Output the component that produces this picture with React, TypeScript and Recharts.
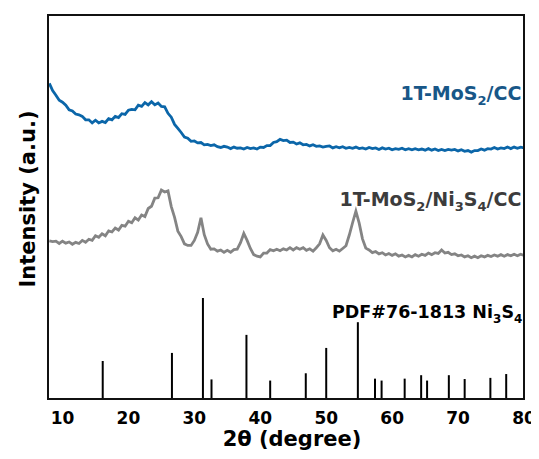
import React from 'react';
import {
  ComposedChart,
  Line,
  XAxis,
  YAxis,
  ReferenceLine,
  ReferenceDot,
} from 'recharts';

// 2θ sampling grid of the measured patterns
const twoThetaStart = 8;
const twoThetaStep = 0.5;

// 1T-MoS2/CC intensity (a.u.), one value per grid step (8.0 … 80.0)
const mos2CC = [
  82.2, 80.3, 79.1, 77.8, 77.3, 76.5, 75.3, 75.0, 74.2, 74.0,
  73.6, 72.7, 72.7, 71.9, 72.6, 71.9, 72.3, 72.0, 73.0, 72.7,
  73.6, 73.3, 74.3, 74.1, 75.2, 75.4, 75.3, 76.5, 76.2, 77.2,
  76.6, 77.4, 76.6, 77.1, 76.2, 76.1, 74.4, 73.4, 71.5, 70.5,
  69.4, 68.2, 67.9, 67.1, 67.2, 66.7, 66.8, 66.2, 66.3, 66.0,
  66.2, 65.7, 65.5, 65.8, 65.6, 65.2, 65.6, 65.3, 65.4, 65.1,
  65.5, 65.2, 65.4, 65.1, 65.6, 65.5, 66.0, 66.0, 66.8, 67.0,
  67.6, 67.3, 67.4, 66.8, 66.9, 66.4, 66.7, 66.2, 66.3, 65.9,
  66.2, 65.8, 65.9, 65.6, 65.8, 65.9, 65.4, 65.7, 65.4, 65.7,
  65.3, 65.5, 65.3, 65.6, 65.2, 65.4, 65.1, 65.5, 65.2, 65.4,
  65.0, 65.4, 65.1, 65.3, 64.9, 65.2, 65.0, 65.3, 64.9, 65.2,
  64.9, 65.2, 64.9, 65.1, 64.8, 65.2, 64.8, 65.1, 64.7, 65.0,
  64.7, 65.0, 64.8, 65.0, 64.6, 64.9, 64.5, 64.7, 64.3, 64.7,
  64.7, 65.1, 64.8, 65.2, 65.1, 65.5, 65.1, 65.4, 65.2, 65.6,
  65.2, 65.6, 65.3, 65.6, 65.4,
];

// 1T-MoS2/Ni3S4/CC intensity (a.u.)
const mos2Ni3S4CC = [
  41.2, 41.0, 41.1, 40.5, 41.1, 40.6, 40.9, 40.3, 40.8, 40.5,
  41.3, 40.8, 41.6, 41.3, 42.5, 42.1, 43.0, 42.5, 43.8, 43.5,
  44.5, 44.0, 45.2, 45.0, 46.3, 45.9, 47.2, 46.6, 47.9, 47.5,
  49.6, 50.2, 52.3, 52.4, 54.4, 53.9, 54.2, 50.1, 47.3, 43.7,
  42.3, 40.4, 40.0, 40.0, 41.3, 43.4, 47.2, 42.8, 40.4, 39.0,
  39.1, 38.5, 38.8, 38.2, 38.7, 38.2, 38.9, 39.0, 40.7, 43.1,
  41.3, 39.2, 37.6, 37.2, 37.0, 38.0, 38.0, 38.9, 38.6, 39.0,
  38.6, 39.1, 38.8, 39.4, 38.8, 39.4, 39.0, 39.4, 38.7, 39.1,
  38.5, 39.4, 40.4, 42.7, 41.3, 39.4, 38.6, 39.0, 38.5, 39.2,
  39.9, 42.7, 45.9, 48.9, 45.8, 41.7, 39.3, 38.8, 38.1, 38.4,
  37.8, 38.1, 37.5, 37.9, 37.4, 37.8, 37.2, 37.5, 37.0, 37.4,
  37.0, 37.6, 37.2, 37.7, 37.4, 38.0, 37.6, 38.1, 37.9, 38.8,
  38.0, 38.2, 37.6, 37.8, 37.3, 37.5, 37.0, 37.3, 36.8, 37.2,
  36.8, 37.3, 37.0, 37.4, 37.1, 37.5, 37.2, 37.6, 37.2, 37.6,
  37.3, 37.7, 37.3, 37.7, 37.4,
];

// PDF#76-1813 Ni3S4 reference lines
const pdfTwoTheta = [16.1, 26.6, 31.3, 32.6, 37.9, 41.5, 46.9, 50.0, 54.8, 57.4, 58.4, 61.9, 64.4, 65.3, 68.6, 71.0, 74.9, 77.3];
const pdfIntensity = [9.9, 12.0, 26.3, 5.1, 16.7, 4.8, 6.7, 13.3, 20.0, 5.3, 4.8, 5.3, 6.2, 4.8, 6.2, 5.2, 5.5, 6.5];

const xTicks = [10, 20, 30, 40, 50, 60, 70, 80];
const xDomain = [7.8, 80];
const yDomain = [0, 100];

const FONT = '"DejaVu Sans", Verdana, sans-serif';
const FRAME_COLOR = '#111111';
const FRAME_WIDTH = 2;

// chart layout (8px body margin + 443 + 8 = 459, no page overflow)
const CHART_W = 531;
const CHART_H = 443;
const MARGIN = { top: 7, right: 15, bottom: 0, left: 0 };
const Y_AXIS_W = 40;
const X_AXIS_H = 52;

const [x0, x1] = xDomain;
const [y0, y1] = yDomain;
const frameSides = [
  [{ x: x0, y: y0 }, { x: x0, y: y1 }],
  [{ x: x0, y: y1 }, { x: x1, y: y1 }],
  [{ x: x1, y: y1 }, { x: x1, y: y0 }],
  [{ x: x1, y: y0 }, { x: x0, y: y0 }],
];

const toSeries = (values: number[]) =>
  values.map((v, i) => ({ x: +(twoThetaStart + i * twoThetaStep).toFixed(2), y: v }));

const blueData = toSeries(mos2CC);
const grayData = toSeries(mos2Ni3S4CC);

type Part = { t: string; sub?: boolean };

const makeLabel = (parts: Part[], color: string, size: number, subSize: number, subShift: number) =>
  (props: any) => {
    const vb = props.viewBox || {};
    const x = (vb.x || 0) + (vb.width || 0) / 2;
    const y = (vb.y || 0) + (vb.height || 0) / 2;
    let prevSub = false;
    return (
      <text x={x} y={y} textAnchor="end" fontFamily={FONT} fontWeight="bold" fontSize={size} fill={color}>
        {parts.map((p, i) => {
          const dy = p.sub && !prevSub ? subShift : !p.sub && prevSub ? -subShift : 0;
          prevSub = !!p.sub;
          return (
            <tspan key={i} dy={dy} fontSize={p.sub ? subSize : size}>
              {p.t}
            </tspan>
          );
        })}
      </text>
    );
  };

const xLabel = (props: any) => {
  const vb = props.viewBox;
  return (
    <text
      x={vb.x + vb.width / 2 + 6}
      y={vb.y + 47}
      textAnchor="middle"
      fontFamily={FONT}
      fontWeight="bold"
      fontSize={21}
      fill="#000"
    >
      2θ (degree)
    </text>
  );
};

const yLabel = (props: any) => {
  const vb = props.viewBox;
  const cx = vb.x + 26.5;
  const cy = vb.y + vb.height / 2 - 8;
  return (
    <text
      x={cx}
      y={cy}
      transform={`rotate(-90 ${cx} ${cy})`}
      textAnchor="middle"
      fontFamily={FONT}
      fontWeight="bold"
      fontSize={21}
      fill="#000"
    >
      Intensity (a.u.)
    </text>
  );
};

export default function App() {
  return (
    <div style={{ width: CHART_W, height: CHART_H }}>
      <ComposedChart width={CHART_W} height={CHART_H} margin={MARGIN}>
        <XAxis
          dataKey="x"
          type="number"
          domain={xDomain}
          ticks={xTicks}
          allowDataOverflow
          axisLine={false}
          tickLine={false}
          tickSize={0}
          tickMargin={13}
          height={X_AXIS_H}
          tick={{ fontFamily: FONT, fontSize: 17, fontWeight: 'bold', fill: '#000' }}
          label={xLabel}
        />
        <YAxis
          type="number"
          domain={yDomain}
          allowDataOverflow
          width={Y_AXIS_W}
          tick={false}
          tickLine={false}
          axisLine={false}
          label={yLabel}
        />
        {pdfTwoTheta.map((t, i) => (
          <ReferenceLine
            key={`pdf-${i}`}
            segment={[
              { x: t, y: 0 },
              { x: t, y: pdfIntensity[i] },
            ]}
            stroke="#000"
            strokeWidth={2}
          />
        ))}
        <Line
          data={grayData}
          dataKey="y"
          type="linear"
          stroke="#848484"
          strokeWidth={2.8}
          dot={false}
          isAnimationActive={false}
        />
        <Line
          data={blueData}
          dataKey="y"
          type="linear"
          stroke="#0b66a9"
          strokeWidth={2.8}
          dot={false}
          isAnimationActive={false}
        />
        {frameSides.map((seg, i) => (
          <ReferenceLine
            key={`frame-${i}`}
            segment={seg}
            stroke={FRAME_COLOR}
            strokeWidth={FRAME_WIDTH}
            strokeLinecap="square"
            ifOverflow="visible"
          />
        ))}
        <ReferenceDot
          x={79.6}
          y={77.9}
          r={1}
          fill="none"
          stroke="none"
          label={makeLabel([{ t: '1T-MoS' }, { t: '2', sub: true }, { t: '/CC' }], '#185788', 19, 13, 5)}
        />
        <ReferenceDot
          x={79.6}
          y={50.3}
          r={1}
          fill="none"
          stroke="none"
          label={makeLabel(
            [{ t: '1T-MoS' }, { t: '2', sub: true }, { t: '/Ni' }, { t: '3', sub: true }, { t: 'S' }, { t: '4', sub: true }, { t: '/CC' }],
            '#3c3c3c',
            19,
            13,
            5
          )}
        />
        <ReferenceDot
          x={79.75}
          y={21.0}
          r={1}
          fill="none"
          stroke="none"
          label={makeLabel(
            [{ t: 'PDF#76-1813 Ni' }, { t: '3', sub: true }, { t: 'S' }, { t: '4', sub: true }],
            '#000',
            17.5,
            12,
            5
          )}
        />
      </ComposedChart>
    </div>
  );
}
